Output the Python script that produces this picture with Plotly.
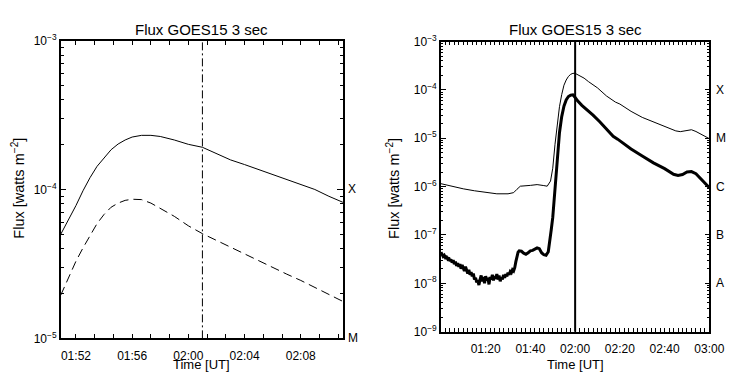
import math
import plotly.graph_objects as go

DAY = "2011-02-15 "

# ---- zoomed view around the flare peak (left panel) ----
zoom_long_t = ["01:50:55", "01:51:30", "01:52:00", "01:52:30", "01:53:00", "01:53:30",
               "01:54:00", "01:54:30", "01:55:00", "01:55:30", "01:56:00", "01:56:40",
               "01:57:20", "01:58:00", "01:59:00", "02:00:00", "02:01:00", "02:02:00",
               "02:03:00", "02:04:00", "02:05:00", "02:06:00", "02:07:00", "02:08:00",
               "02:09:00", "02:10:00", "02:11:00"]
zoom_long_flux = [5.0e-5, 6.3e-5, 7.8e-5, 9.8e-5, 1.2e-4, 1.43e-4,
                  1.63e-4, 1.85e-4, 2.02e-4, 2.15e-4, 2.25e-4, 2.31e-4,
                  2.31e-4, 2.27e-4, 2.15e-4, 2.01e-4, 1.92e-4, 1.74e-4,
                  1.58e-4, 1.47e-4, 1.36e-4, 1.26e-4, 1.17e-4, 1.08e-4,
                  1.0e-4, 9.0e-5, 8.2e-5]

zoom_short_t = ["01:50:55", "01:51:30", "01:52:00", "01:52:30", "01:53:00", "01:53:30",
                "01:54:00", "01:54:30", "01:55:00", "01:55:30", "01:56:00", "01:56:40",
                "01:57:20", "01:58:00", "01:59:00", "02:00:00", "02:01:00", "02:02:00",
                "02:03:00", "02:04:00", "02:05:00", "02:06:00", "02:07:00", "02:08:00",
                "02:09:00", "02:10:00", "02:11:00"]
zoom_short_flux = [1.95e-5, 2.6e-5, 3.3e-5, 4.05e-5, 4.9e-5, 5.9e-5,
                   6.8e-5, 7.6e-5, 8.1e-5, 8.45e-5, 8.6e-5, 8.55e-5,
                   8.1e-5, 7.5e-5, 6.6e-5, 5.7e-5, 5.05e-5, 4.55e-5,
                   4.1e-5, 3.7e-5, 3.3e-5, 3.0e-5, 2.7e-5, 2.45e-5,
                   2.2e-5, 1.97e-5, 1.77e-5]

zoom_marker = "02:01:00"

# ---- full two-hour view (right panel) ----
full_long_t = ["01:00:00", "01:05:00", "01:10:00", "01:15:00", "01:20:00", "01:25:00",
               "01:30:00", "01:32:30", "01:34:00", "01:35:30", "01:40:00", "01:43:00",
               "01:46:00", "01:47:30", "01:49:00", "01:50:00", "01:51:00", "01:52:00",
               "01:53:00", "01:54:00", "01:55:00", "01:56:00", "01:57:00", "01:58:00",
               "01:59:00", "02:00:00", "02:02:00", "02:04:00", "02:06:00", "02:10:00",
               "02:14:00", "02:18:00", "02:20:00", "02:25:00", "02:30:00", "02:35:00",
               "02:40:00", "02:45:00", "02:47:00", "02:50:00", "02:52:00", "02:54:00",
               "02:57:00", "03:00:00"]
full_long_flux = [1.15e-6, 1.0e-6, 9.0e-7, 8.2e-7, 7.5e-7, 7.1e-7,
                  7.1e-7, 7.5e-7, 8.8e-7, 1.02e-6, 1.06e-6, 1.1e-6,
                  1.05e-6, 1.02e-6, 1.3e-6, 2.4e-6, 7.5e-6, 2.0e-5,
                  4.5e-5, 8.0e-5, 1.25e-4, 1.6e-4, 1.9e-4, 2.1e-4,
                  2.2e-4, 2.2e-4, 2.0e-4, 1.75e-4, 1.48e-4, 1.1e-4,
                  7.5e-5, 5.6e-5, 5.1e-5, 3.6e-5, 2.7e-5, 2.2e-5,
                  1.75e-5, 1.42e-5, 1.37e-5, 1.45e-5, 1.5e-5, 1.38e-5,
                  1.15e-5, 9.8e-6]

full_short_t = ["01:00:00", "01:00:30", "01:01:00", "01:01:30", "01:02:00", "01:02:30",
                "01:03:00", "01:03:30", "01:04:00", "01:04:30", "01:05:00", "01:05:30",
                "01:06:00", "01:06:30", "01:07:00", "01:07:30", "01:08:00", "01:08:30",
                "01:09:00", "01:09:30", "01:10:00", "01:10:30", "01:11:00", "01:11:30",
                "01:12:00", "01:12:30", "01:13:00", "01:13:30", "01:14:00", "01:14:30",
                "01:15:00", "01:15:30", "01:16:00", "01:16:30", "01:17:00", "01:17:30",
                "01:18:00", "01:18:30", "01:19:00", "01:19:30", "01:20:00", "01:20:30",
                "01:21:00", "01:21:30", "01:22:00", "01:22:30", "01:23:00", "01:23:30",
                "01:24:00", "01:24:30", "01:25:00", "01:25:30", "01:26:00", "01:26:30",
                "01:27:00", "01:27:30", "01:28:00", "01:28:30", "01:29:00", "01:29:30",
                "01:30:00", "01:30:30", "01:31:00", "01:31:30", "01:32:00", "01:32:30",
                "01:33:00", "01:33:30", "01:34:00", "01:34:30", "01:35:00", "01:36:00",
                "01:37:00", "01:38:00", "01:39:00", "01:40:00", "01:41:00", "01:42:00",
                "01:43:00", "01:44:00", "01:45:00", "01:46:00", "01:47:00", "01:48:00",
                "01:48:40", "01:49:20", "01:50:00", "01:50:30", "01:51:00", "01:51:30",
                "01:52:00", "01:52:30", "01:53:00", "01:54:00", "01:55:00", "01:56:00",
                "01:57:00", "01:58:00", "01:59:00", "02:00:00", "02:01:00", "02:03:00",
                "02:05:00", "02:08:00", "02:11:00", "02:14:00", "02:17:00", "02:19:00",
                "02:21:00", "02:25:00", "02:30:00", "02:35:00", "02:40:00", "02:44:00",
                "02:46:00", "02:48:00", "02:50:00", "02:52:00", "02:54:00", "02:57:00",
                "03:00:00"]
full_short_flux = [4.4e-8, 4.0e-8, 3.6e-8, 3.8e-8, 3.4e-8, 3.5e-8,
                   3.2e-8, 3.4e-8, 2.9e-8, 3.1e-8, 2.7e-8, 3.0e-8,
                   2.5e-8, 2.8e-8, 2.3e-8, 2.6e-8, 2.2e-8, 2.5e-8,
                   2.0e-8, 2.4e-8, 2.1e-8, 1.8e-8, 2.2e-8, 1.9e-8,
                   1.6e-8, 1.9e-8, 1.5e-8, 1.7e-8, 1.4e-8, 1.6e-8,
                   1.2e-8, 1.3e-8, 1.05e-8, 1.15e-8, 0.92e-8, 1.2e-8,
                   1.45e-8, 1.1e-8, 1.35e-8, 1.0e-8, 1.4e-8, 1.15e-8,
                   1.3e-8, 0.95e-8, 1.35e-8, 1.2e-8, 1.5e-8, 1.15e-8,
                   1.4e-8, 1.25e-8, 1.55e-8, 1.2e-8, 1.45e-8, 1.1e-8,
                   1.35e-8, 1.2e-8, 1.5e-8, 1.3e-8, 1.55e-8, 1.4e-8,
                   1.65e-8, 1.5e-8, 1.75e-8, 1.65e-8, 1.9e-8, 1.8e-8,
                   2.1e-8, 2.8e-8, 3.8e-8, 4.4e-8, 4.7e-8, 4.6e-8,
                   4.2e-8, 4.0e-8, 4.3e-8, 4.7e-8, 4.8e-8, 5.0e-8,
                   5.4e-8, 5.2e-8, 4.3e-8, 3.9e-8, 3.8e-8, 4.5e-8,
                   7.0e-8, 1.3e-7, 2.3e-7, 4.5e-7, 9.0e-7, 2.0e-6,
                   4.0e-6, 7.5e-6, 1.3e-5, 2.8e-5, 4.6e-5, 6.2e-5,
                   7.3e-5, 7.8e-5, 7.9e-5, 7.0e-5, 6.0e-5, 4.8e-5,
                   4.0e-5, 3.0e-5, 2.2e-5, 1.55e-5, 1.1e-5, 9.6e-6,
                   8.2e-6, 6.0e-6, 4.3e-6, 3.1e-6, 2.35e-6, 1.8e-6,
                   1.7e-6, 1.78e-6, 2.0e-6, 2.05e-6, 1.85e-6, 1.35e-6,
                   9.5e-7]

full_marker = "02:00:00"

zoom_ticks = ["01:52", "01:56", "02:00", "02:04", "02:08"]
full_ticks = ["01:20", "01:40", "02:00", "02:20", "02:40", "03:00"]
zoom_decades = [-5, -4, -3]
full_decades = [-9, -8, -7, -6, -5, -4, -3]
zoom_class_names = ["X", "M"]
zoom_class_flux = [1e-4, 1e-5]
full_class_names = ["X", "M", "C", "B", "A"]
full_class_flux = [1e-4, 1e-5, 1e-6, 1e-7, 1e-8]

TITLE = "Flux GOES15 3 sec"
YTITLE = "Flux [watts m<sup>\u22122</sup>]"
XTITLE = "Time [UT]"


def stamp(times):
    return [DAY + t for t in times]


def power_labels(decades):
    return [f"10<sup>\u2212{abs(e)}</sup>" for e in decades]


def minor_log(lo, hi):
    return [m * 10.0 ** e for e in range(lo, hi) for m in range(2, 10)]


FONT = "Liberation Sans"
W, H = 742, 376

fig = go.Figure()
fig.add_trace(go.Scatter(x=stamp(zoom_long_t), y=zoom_long_flux, mode="lines",
                         line=dict(color="black", width=1), xaxis="x", yaxis="y"))
fig.add_trace(go.Scatter(x=stamp(zoom_short_t), y=zoom_short_flux, mode="lines",
                         line=dict(color="black", width=1, dash="9px,5px"),
                         xaxis="x", yaxis="y"))
fig.add_trace(go.Scatter(x=stamp(full_long_t), y=full_long_flux, mode="lines",
                         line=dict(color="black", width=1), xaxis="x2", yaxis="y2"))
fig.add_trace(go.Scatter(x=stamp(full_short_t), y=full_short_flux, mode="lines",
                         line=dict(color="black", width=3), xaxis="x2", yaxis="y2"))

# empty traces so the minor-tick overlay axes get drawn
for xa, ya in [("x", "y5"), ("x2", "y6")]:
    fig.add_trace(go.Scatter(x=[None], y=[None], mode="lines", xaxis=xa, yaxis=ya,
                             hoverinfo="skip", showlegend=False))

fig.add_shape(type="line", xref="x", yref="y domain", x0=DAY + zoom_marker,
              x1=DAY + zoom_marker, y0=0, y1=1,
              line=dict(color="black", width=1, dash="8px,3px,2px,3px"))
fig.add_shape(type="line", xref="x2", yref="y2 domain", x0=DAY + full_marker,
              x1=DAY + full_marker, y0=0, y1=1,
              line=dict(color="black", width=2))

tick_font = dict(family=FONT, size=12, color="black")
base = dict(showgrid=False, zeroline=False, tickcolor="black", tickfont=tick_font)
framed = dict(base, showline=True, linecolor="black", linewidth=1.5,
              mirror="allticks", ticks="inside")

dom_x1 = [62 / W, 350 / W]
dom_y1 = [1 - 344 / H, 1 - 33 / H]
dom_x2 = [450 / W, 724 / W]
dom_y2 = [1 - 337 / H, 1 - 34 / H]

fig.update_layout(
    width=W, height=H, margin=dict(l=0, r=0, t=0, b=0),
    paper_bgcolor="white", plot_bgcolor="white", showlegend=False,
    font=dict(family=FONT, color="black"),
    # left panel
    xaxis=dict(framed, domain=dom_x1, anchor="y", type="date",
               range=[DAY + "01:50:55", DAY + "02:11:00"],
               tickmode="array", tickvals=stamp(zoom_ticks), ticktext=zoom_ticks,
               ticklen=5, ticklabelstandoff=5,
               minor=dict(ticks="inside", ticklen=3, tickcolor="black",
                          tick0=DAY + "01:52", dtick=80000)),
    yaxis=dict(framed, domain=dom_y1, anchor="x", type="log", range=[-5, -3],
               tickmode="array", tickvals=[10.0 ** e for e in zoom_decades],
               ticktext=power_labels(zoom_decades), ticklen=6),
    yaxis5=dict(base, overlaying="y", anchor="x", side="left", type="log",
                range=[-5, -3], showline=False, ticks="inside", ticklen=3,
                mirror="allticks", showticklabels=False,
                tickmode="array", tickvals=minor_log(-5, -3)),
    # right panel
    xaxis2=dict(framed, domain=dom_x2, anchor="y2", type="date",
                range=[DAY + "01:00", DAY + "03:00"],
                tickmode="array", tickvals=stamp(full_ticks), ticktext=full_ticks,
                ticklen=4, ticklabelstandoff=5,
                minor=dict(ticks="inside", ticklen=2, tickcolor="black",
                           tick0=DAY + "01:00", dtick=120000)),
    yaxis2=dict(framed, domain=dom_y2, anchor="x2", type="log", range=[-9, -3],
                tickmode="array", tickvals=[10.0 ** e for e in full_decades],
                ticktext=power_labels(full_decades), ticklen=5),
    yaxis6=dict(base, overlaying="y2", anchor="x2", side="left", type="log",
                range=[-9, -3], showline=False, ticks="inside", ticklen=2.5,
                mirror="allticks", showticklabels=False,
                tickmode="array", tickvals=minor_log(-9, -3)),
)

# GOES class letters beside the right-hand axis of each panel
for names, fluxes, xa, ya, gap in [(zoom_class_names, zoom_class_flux, "x", "y", 3),
                                   (full_class_names, full_class_flux, "x2", "y2", 5)]:
    for name, f in zip(names, fluxes):
        fig.add_annotation(text=name, xref=f"{xa} domain", yref=ya, x=1, y=math.log10(f),
                           xanchor="left", yanchor="middle", xshift=gap, showarrow=False,
                           font=tick_font)

title_font = dict(family=FONT, size=15, color="black")
label_font = dict(family=FONT, size=13, color="black")
ytitle_font = dict(family=FONT, size=14.5, color="black")
for cx, dx in [(206, dom_x1), (587, dom_x2)]:
    fig.add_annotation(text=TITLE, xref="paper", yref="paper", x=cx / W, y=1 - 21 / H,
                       showarrow=False, font=title_font, xanchor="center", yanchor="middle")
    fig.add_annotation(text=XTITLE, xref="paper", yref="paper", x=(dx[0] + dx[1]) / 2,
                       y=1 - 371 / H, showarrow=False, font=label_font,
                       xanchor="center", yanchor="middle")
for cx in (18, 401):
    fig.add_annotation(text=YTITLE, xref="paper", yref="paper", x=cx / W, y=1 - 187 / H,
                       textangle=-90, showarrow=False, font=ytitle_font,
                       xanchor="center", yanchor="middle")

fig.write_html("out.html")
